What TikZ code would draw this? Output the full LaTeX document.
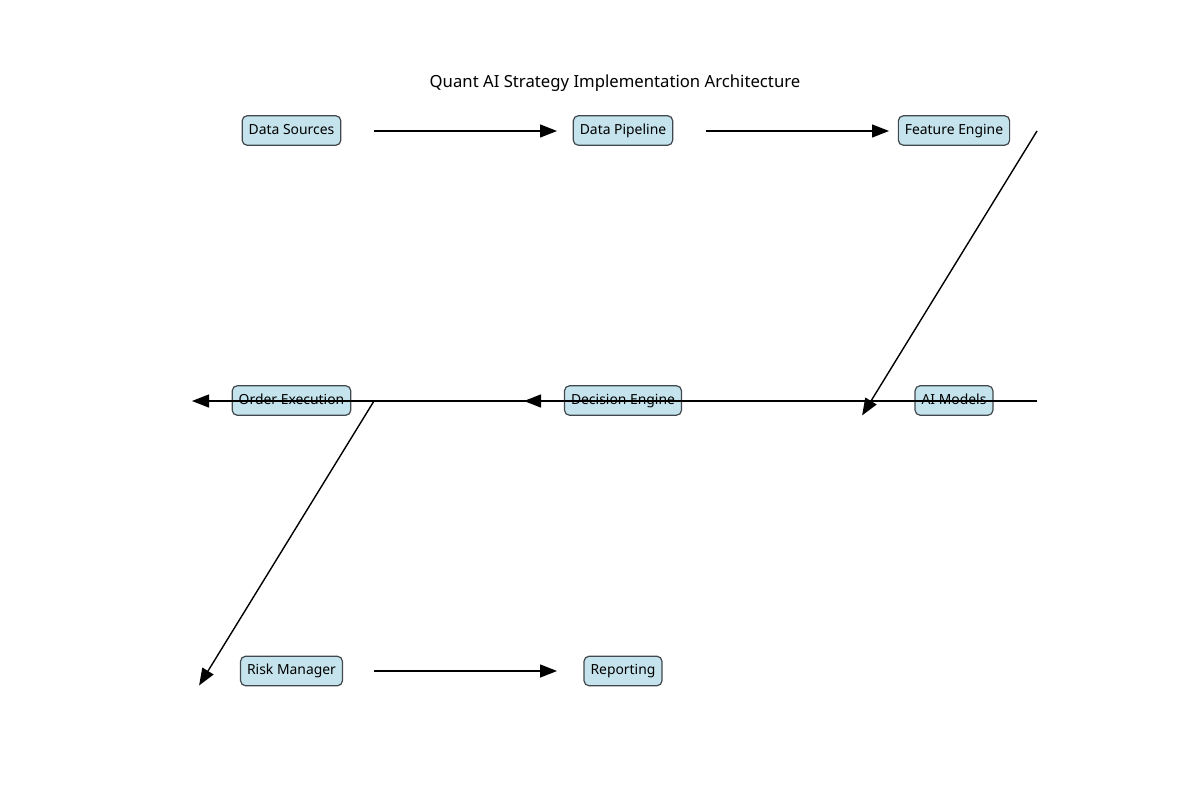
\documentclass[tikz,border=0pt]{standalone}
\usepackage{fontspec}
\setmainfont{Noto Sans}
\usetikzlibrary{arrows.meta}
\definecolor{boxfill}{HTML}{C5E3EC}
\definecolor{boxedge}{HTML}{41484D}
\tikzset{
  stage/.style={draw=boxedge, fill=boxfill, line width=1.2pt, rounded corners=5pt,
    font=\fontsize{13.9}{16}\selectfont, inner xsep=6.5pt, inner ysep=0pt,
    text height=10.5pt, text depth=3.5pt, minimum height=29.5pt},
  flow/.style={line width=1.4pt, -{Triangle[length=17pt,width=13pt]}, shorten >=-17pt},
}
\begin{document}
\begin{tikzpicture}[x=1pt,y=-1pt]
\useasboundingbox (0,0) rectangle (1200,800);
\node[font=\fontsize{16.7}{20}\selectfont] (title) at (615,83.5) {Quant AI Strategy Implementation Architecture};
% nodes
\node[stage] (ds) at (291.5,130.5) {Data Sources};
\node[stage] (dp) at (623,130.5) {Data Pipeline};
\node[stage] (fe) at (954,130.5) {Feature Engine};
\node[stage] (ai) at (954,400.5) {AI Models};
\node[stage] (de) at (623,400.5) {Decision Engine};
\node[stage] (oe) at (291.5,400.5) {Order Execution};
\node[stage] (rm) at (291.5,671) {Risk Manager};
\node[stage] (rp) at (623,671) {Reporting};
% connector ends
\coordinate (s1) at (374,131); \coordinate (e1) at (540,131);
\coordinate (s2) at (706,131); \coordinate (e2) at (872,131);
\coordinate (s3) at (1037,131); \coordinate (e3) at (871,401);
\coordinate (s4) at (1037,401); \coordinate (e4) at (541,401);
\coordinate (s5) at (706,401); \coordinate (e5) at (209,401);
\coordinate (s6) at (374,401); \coordinate (e6) at (208,671);
\coordinate (s7) at (374,671); \coordinate (e7) at (540,671);
\draw[flow] (s1) -- (e1);
\draw[flow] (s2) -- (e2);
\draw[flow] (s3) -- (e3);
\draw[flow] (s4) -- (e4);
\draw[flow] (s5) -- (e5);
\draw[flow] (s6) -- (e6);
\draw[flow] (s7) -- (e7);
\end{tikzpicture}
\end{document}
